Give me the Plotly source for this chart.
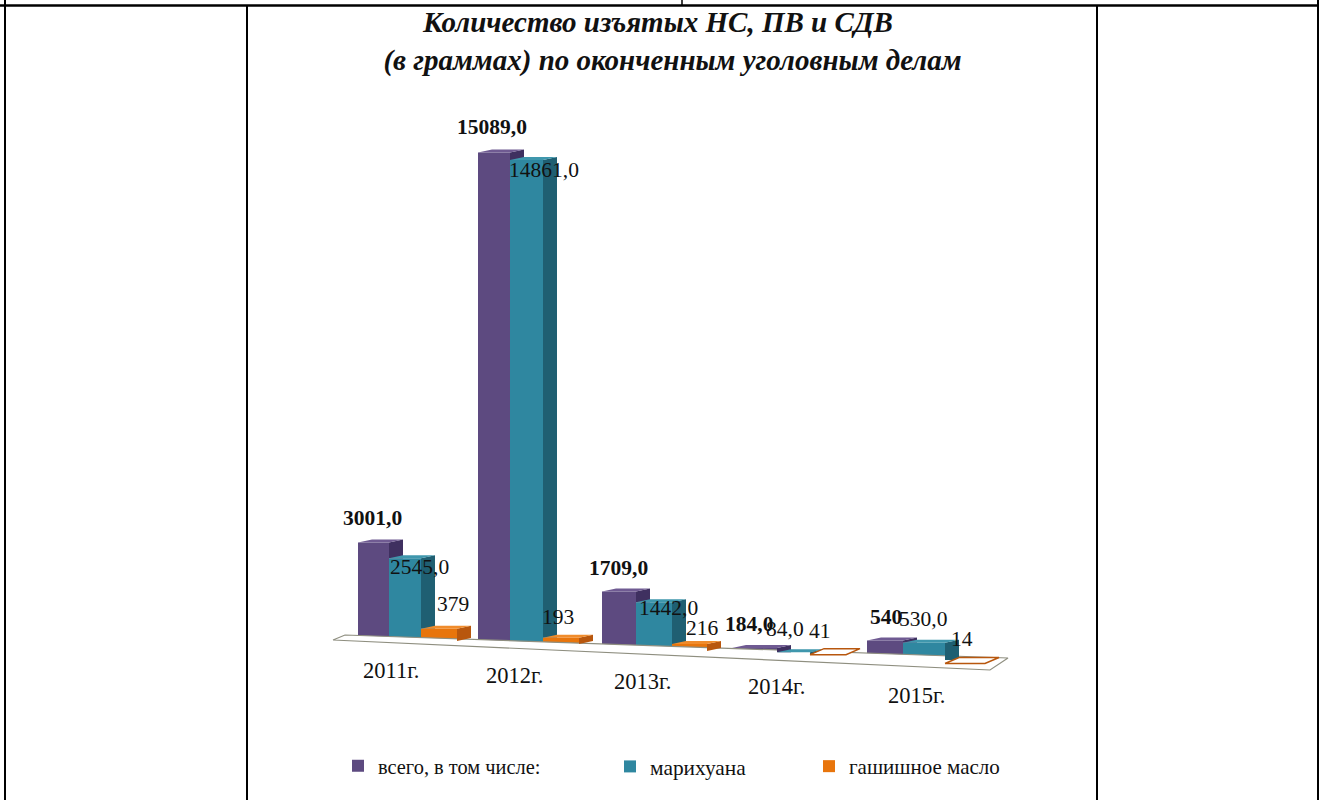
import plotly.graph_objects as go

YEARS = ["2011г.", "2012г.", "2013г.", "2014г.", "2015г."]
TOTAL = [3001.0, 15089.0, 1709.0, 184.0, 540.0]
MARIJUANA = [2545.0, 14861.0, 1442.0, 84.0, 530.0]
HASH_OIL = [379, 193, 216, 41, 14]
SERIES_NAMES = ["всего, в том числе:", "марихуана", "гашишное масло"]
TITLE_LINES = ["Количество изъятых НС, ПВ и СДВ\u00a0\u00a0\u00a0\u00a0", "(в граммах) по оконченным уголовным делам"]

# pixel-to-data scale of the hidden axes: the page is the plot area
W, H = 1319, 800
PX_PER_UNIT = 0.0325
ZERO_PX = 640


def u(px):
    return (ZERO_PX - px) / PX_PER_UNIT


# tilted floor, per group
GROUP_LEFT = [358, 478, 602, 732, 867]
BAR_W = [[31, 32, 36], [32, 33, 36], [34, 36, 35], [45, 33, 36], [36, 42, 40]]
FLOOR = [[640, 641, 641], [643, 643, 644], [647, 649, 651], [654, 655, 656], [658, 660, 664]]
DEPTH_X, DEPTH_Y = 14, 3
HOLLOW_BELOW = 50

FRONT = ["#5d4a80", "#2f87a0", "#e8750c"]
SIDE = ["#3f3060", "#1f5f72", "#b8570e"]
TOP = ["#6f5a92", "#3f97ad", "#f08c2c"]
VALUES = [TOTAL, MARIJUANA, HASH_OIL]
FLOOR_LINE = "#8f8f80"
FLOOR_PTS = [(333, 640), (345, 635), (1008, 658), (990, 670)]

fig = go.Figure()

# floor
fig.add_trace(go.Scatter(
    x=[p[0] for p in FLOOR_PTS] + [FLOOR_PTS[0][0]],
    y=[u(p[1]) for p in FLOOR_PTS] + [u(FLOOR_PTS[0][1])],
    mode="lines", fill="toself", fillcolor="#ffffff",
    line=dict(color=FLOOR_LINE, width=1.2), showlegend=False, hoverinfo="skip"))

for s, vals in enumerate(VALUES):
    xs, widths, bases = [], [], []
    for g in range(len(YEARS)):
        left = GROUP_LEFT[g] + sum(BAR_W[g][:s])
        w = BAR_W[g][s]
        xs.append(left + w / 2)
        widths.append(w)
        bases.append(u(FLOOR[g][s]))
    legend_id = "legend" if s == 0 else f"legend{s + 1}"
    fig.add_trace(go.Bar(
        x=xs, y=vals, base=bases, width=widths, name=SERIES_NAMES[s],
        marker=dict(color=FRONT[s], line=dict(width=0)), legend=legend_id, hoverinfo="y"))

# depth faces: side above the next bar's top, and the top face
for s, vals in enumerate(VALUES):
    for g in range(len(YEARS)):
        left = GROUP_LEFT[g] + sum(BAR_W[g][:s])
        right = left + BAR_W[g][s]
        base = u(FLOOR[g][s])
        top = base + vals[g]
        lift = DEPTH_Y / PX_PER_UNIT
        low = base
        if s < 2:
            low = max(base, u(FLOOR[g][s + 1]) + VALUES[s + 1][g])
        hollow = s == 2 and vals[g] < HOLLOW_BELOW
        if not hollow and (top - low > 0 or s == 2):
            fig.add_trace(go.Scatter(
                x=[right, right + DEPTH_X, right + DEPTH_X, right, right],
                y=[top, top + lift, low + lift if s == 2 else low, low, top],
                mode="lines", fill="toself", fillcolor=SIDE[s], line=dict(width=0, color=SIDE[s]),
                showlegend=False, hoverinfo="skip"))
        fig.add_trace(go.Scatter(
            x=[left, left + DEPTH_X, right + DEPTH_X, right, left],
            y=[top, top + 2 * lift if hollow else top + lift, top + 2 * lift if hollow else top + lift, top, top],
            mode="lines", fill="toself", fillcolor="#ffffff" if hollow else TOP[s],
            line=dict(width=1.5 if hollow else 0, color=SIDE[s] if hollow else TOP[s]),
            showlegend=False, hoverinfo="skip"))

FONT = "Liberation Serif"
TEXT = "#111111"


def label(px, py, text, bold=False, size=21.5):
    fig.add_annotation(xref="x", yref="y", x=px, y=u(py), text=f"<b>{text}</b>" if bold else text,
                       showarrow=False, xanchor="center", yanchor="middle",
                       font=dict(family=FONT, size=size, color=TEXT))


def fmt(v):
    return f"{v:.1f}".replace(".", ",")


TOTAL_POS = [(372, 518), (492, 127), (618, 568), (749, 624), (886, 617)]
MAR_POS = [(419, 567), (544, 170), (668, 608), (785, 629), (923, 619)]
OIL_POS = [(453, 604), (558, 617), (702, 628), (820, 631), (962, 639)]
YEAR_POS = [(391, 670), (514, 675), (642, 681), (776, 686), (916, 695)]
for g in range(len(YEARS)):
    tx, ty = TOTAL_POS[g]
    label(tx, ty, fmt(TOTAL[g]) if TOTAL[g] != 540.0 else "540", bold=True)
    mx, my = MAR_POS[g]
    label(mx, my, fmt(MARIJUANA[g]))
    ox, oy = OIL_POS[g]
    label(ox, oy, str(HASH_OIL[g]))
    yx, yy = YEAR_POS[g]
    label(yx, yy, YEARS[g], size=22.5)

# table rules around the chart
RULES = [(0, 5.5, 1319, 5.5, 2.5), (5, 0, 5, 800, 2), (247, 5, 247, 800, 2), (1097, 5, 1097, 800, 2),
         (1318, 0, 1318, 800, 2), (682, 0, 682, 5, 1.5)]
for x0, y0, x1, y1, lw in RULES:
    fig.add_shape(type="line", xref="x", yref="y", x0=x0, x1=x1, y0=u(y0), y1=u(y1),
                  line=dict(color="#000000", width=lw))

LEGEND_X = [338, 610, 809]
LEGEND_SIZE = [20.4, 21.4, 21.0]
layout_legends = {}
for i, lx in enumerate(LEGEND_X):
    key = "legend" if i == 0 else f"legend{i + 1}"
    layout_legends[key] = dict(x=lx / W, y=1 - 746 / H, xanchor="left", yanchor="top",
                               font=dict(family=FONT, size=LEGEND_SIZE[i], color=TEXT),
                               bgcolor="rgba(0,0,0,0)", itemwidth=30)

fig.update_layout(
    width=W, height=H, autosize=False,
    margin=dict(l=0, r=0, t=0, b=0),
    paper_bgcolor="#ffffff", plot_bgcolor="#ffffff",
    barmode="overlay", showlegend=True,
    title=dict(text="<b><i>" + "<br>".join(TITLE_LINES) + "</i></b>",
               x=(247 + 1098) / 2 / W, xanchor="center", y=1 - 32 / H, yanchor="top",
               font=dict(family=FONT, size=29, color=TEXT)),
    xaxis=dict(range=[0, W], visible=False, fixedrange=True),
    yaxis=dict(range=[u(H), u(0)], visible=False, fixedrange=True),
    **layout_legends,
)
fig.write_html("out.html", post_script="document.body.style.margin='0';",
               config={"displayModeBar": False})
